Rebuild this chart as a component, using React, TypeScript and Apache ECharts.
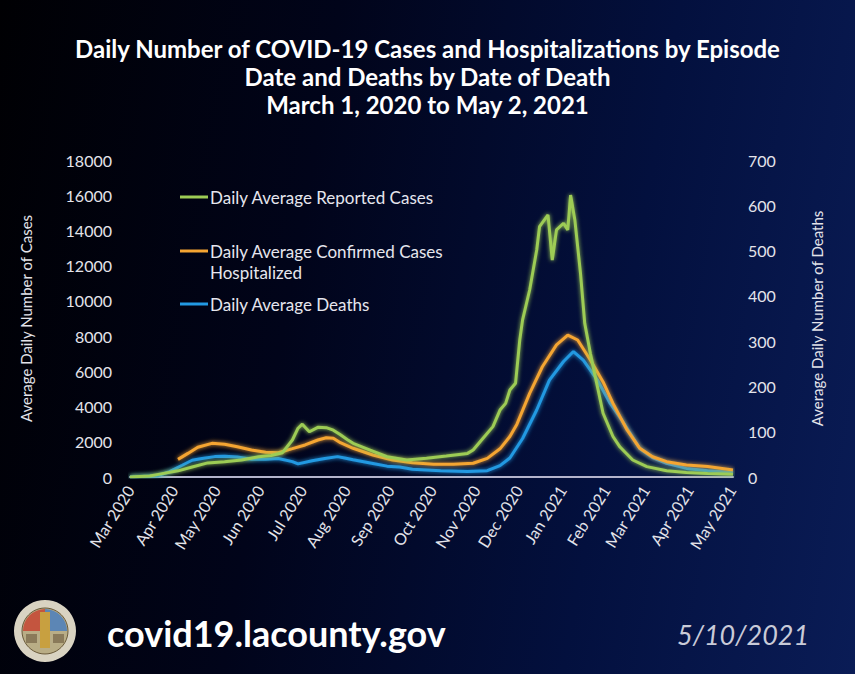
import React, { useEffect, useRef } from "react";
import * as echarts from "echarts";

const monthLabels = ["Mar 2020","Apr 2020","May 2020","Jun 2020","Jul 2020","Aug 2020","Sep 2020","Oct 2020","Nov 2020","Dec 2020","Jan 2021","Feb 2021","Mar 2021","Apr 2021","May 2021"];

const casesDates = ["2020-03-01","2020-03-15","2020-03-21","2020-04-04","2020-04-14","2020-04-25","2020-05-07","2020-05-19","2020-05-31","2020-06-09","2020-06-17","2020-06-24","2020-06-28","2020-07-01","2020-07-06","2020-07-12","2020-07-18","2020-07-23","2020-07-28","2020-08-02","2020-08-06","2020-08-18","2020-08-30","2020-09-13","2020-09-27","2020-10-11","2020-10-26","2020-10-30","2020-11-06","2020-11-13","2020-11-18","2020-11-22","2020-11-25","2020-11-29","2020-12-02","2020-12-04","2020-12-09","2020-12-14","2020-12-16","2020-12-22","2020-12-25","2020-12-28","2021-01-02","2021-01-05","2021-01-07","2021-01-10","2021-01-14","2021-01-17","2021-01-21","2021-01-26","2021-01-30","2021-02-06","2021-02-11","2021-02-20","2021-03-02","2021-03-16","2021-03-30","2021-04-14","2021-05-02"];
const casesValues = [0,60,150,350,570,800,870,965,1150,1220,1380,2100,2770,3000,2570,2820,2800,2660,2400,2120,1910,1530,1150,965,1060,1190,1340,1530,2200,2860,3800,4180,4940,5320,7780,8920,10620,12890,14210,14880,12320,14030,14410,14030,16010,14600,11570,8730,7020,5130,3620,2300,1700,965,590,360,250,200,150];

const hospDates = ["2020-04-04","2020-04-11","2020-04-18","2020-04-28","2020-05-07","2020-05-16","2020-05-26","2020-06-05","2020-06-14","2020-06-24","2020-07-03","2020-07-12","2020-07-18","2020-07-23","2020-07-28","2020-08-06","2020-08-20","2020-09-03","2020-09-17","2020-10-02","2020-10-16","2020-10-30","2020-11-09","2020-11-18","2020-11-25","2020-11-30","2020-12-09","2020-12-18","2020-12-28","2021-01-05","2021-01-12","2021-01-21","2021-01-30","2021-02-06","2021-02-16","2021-02-25","2021-03-06","2021-03-16","2021-03-30","2021-04-14","2021-05-02"];
const hospValues = [1000,1340,1690,1910,1860,1720,1530,1400,1380,1610,1820,2100,2230,2200,1950,1630,1250,965,810,720,720,780,1060,1600,2300,3000,4750,6260,7500,8060,7780,6640,5400,4180,2670,1630,1150,870,680,590,400];

const deathDates = ["2020-03-01","2020-03-21","2020-03-29","2020-04-07","2020-04-14","2020-04-21","2020-04-30","2020-05-07","2020-05-16","2020-05-26","2020-06-05","2020-06-14","2020-06-24","2020-06-28","2020-07-08","2020-07-17","2020-07-26","2020-07-31","2020-08-06","2020-08-20","2020-08-30","2020-09-08","2020-09-17","2020-10-07","2020-10-26","2020-11-09","2020-11-18","2020-11-25","2020-12-04","2020-12-14","2020-12-23","2021-01-02","2021-01-09","2021-01-16","2021-01-26","2021-02-04","2021-02-13","2021-02-25","2021-03-06","2021-03-16","2021-03-30","2021-04-14","2021-05-02"];
const deathValues = [0,3,12,26,37,41,45,46,44,39,39,41,34,29,36,41,45,42,38,30,24,22,17,14,12,14,25,42,85,148,214,255,277,258,214,163,122,63,43,30,19,14,10];

const seriesNames = ["Daily Average Reported Cases", "Daily Average Confirmed Cases Hospitalized", "Daily Average Deaths"];
const colors = ["#9dcc55", "#f5a532", "#2299e2"];

const FONT = "Lato, 'Open Sans', sans-serif";

function pairs(d: string[], v: number[]) {
  return d.map((x, i) => [x, v[i]]);
}

export default function App() {
  const ref = useRef<HTMLDivElement>(null);
  useEffect(() => {
    if (!ref.current) return;
    const chart = echarts.init(ref.current, null, { renderer: "svg" });
    const mkSeries = (i: number, data: any[], yIdx: number) => ({
      name: seriesNames[i],
      type: "line",
      yAxisIndex: yIdx,
      data,
      showSymbol: false,
      symbol: "none",
      lineStyle: { color: colors[i], width: 3, shadowBlur: 4, shadowColor: colors[i] },
      itemStyle: { color: colors[i] },
      z: 3 - i,
    });
    const legendY = [197, 251, 304];
    const graphic: any[] = [];
    legendY.forEach((y, i) => {
      graphic.push({ type: "line", shape: { x1: 180, y1: y, x2: 208, y2: y }, style: { stroke: colors[i], lineWidth: 3 } });
    });
    const lf = `17px ${FONT}`;
    graphic.push({ type: "text", x: 210, y: 197, style: { text: "Daily Average Reported Cases", fill: "#e6e6ee", font: lf, verticalAlign: "middle" } });
    graphic.push({ type: "text", x: 210, y: 251, style: { text: "Daily Average Confirmed Cases", fill: "#e6e6ee", font: lf, verticalAlign: "middle" } });
    graphic.push({ type: "text", x: 210, y: 272, style: { text: "Hospitalized", fill: "#e6e6ee", font: lf, verticalAlign: "middle" } });
    graphic.push({ type: "text", x: 210, y: 304, style: { text: "Daily Average Deaths", fill: "#e6e6ee", font: lf, verticalAlign: "middle" } });
    // seal logo
    graphic.push({ type: "circle", shape: { cx: 45, cy: 631, r: 31 }, style: { fill: "#d9d3c2" } });
    graphic.push({ type: "circle", shape: { cx: 45, cy: 631, r: 23 }, style: { fill: "#b9ad86", stroke: "#6a5a3a", lineWidth: 1 } });
    graphic.push({ type: "sector", shape: { cx: 45, cy: 631, r: 22, r0: 0, startAngle: Math.PI, endAngle: Math.PI * 1.5 }, style: { fill: "#c4553f" } });
    graphic.push({ type: "sector", shape: { cx: 45, cy: 631, r: 22, r0: 0, startAngle: Math.PI * 1.5, endAngle: Math.PI * 2 }, style: { fill: "#5c86b5" } });
    graphic.push({ type: "rect", shape: { x: 40, y: 612, width: 10, height: 36 }, style: { fill: "#c8a040" } });
    graphic.push({ type: "rect", shape: { x: 26, y: 634, width: 11, height: 9 }, style: { fill: "#8a7a5a" } });
    graphic.push({ type: "rect", shape: { x: 53, y: 634, width: 11, height: 9 }, style: { fill: "#8a7a5a" } });
    graphic.push({ type: "text", x: 107, y: 633, style: { text: "covid19.lacounty.gov", fill: "#ffffff", font: `bold 36px ${FONT}`, verticalAlign: "middle" } });
    graphic.push({ type: "text", x: 677, y: 634, style: { text: "5/10/2021", fill: "#c9cbd8", font: `italic 27px ${FONT}`, verticalAlign: "middle" } });

    chart.setOption({
      animation: false,
      backgroundColor: "transparent",
      title: {
        text: "Daily Number of COVID-19 Cases and Hospitalizations by Episode\nDate and Deaths by Date of Death\nMarch 1, 2020 to May 2, 2021",
        left: "center",
        top: 29,
        textStyle: { color: "#ffffff", fontFamily: FONT, fontWeight: "bold", fontSize: 24, lineHeight: 28, align: "center" },
      },
      grid: { left: 130, right: 122, top: 160, bottom: 197 },
      xAxis: {
        type: "time",
        min: "2020-03-01",
        max: "2021-05-02",
        splitNumber: 14,
        minInterval: 28 * 86400000,
        maxInterval: 31 * 86400000,
        axisLine: { show: true, lineStyle: { color: "#b4b4cc", width: 2 } },
        axisTick: { show: false },
        splitLine: { show: false },
        axisLabel: {
          rotate: 58,
          margin: 10,
          color: "#e4e4ea",
          fontFamily: FONT,
          fontSize: 16,
          formatter: (v: number) => {
            const d = new Date(v);
            const idx = (d.getFullYear() - 2020) * 12 + d.getMonth() - 2;
            return monthLabels[idx] ?? "";
          },
        },
      },
      yAxis: [
        {
          type: "value",
          min: 0,
          max: 18000,
          interval: 2000,
          name: "Average Daily Number of Cases",
          nameLocation: "middle",
          nameGap: 97,
          nameTextStyle: { color: "#e4e4ea", fontFamily: FONT, fontSize: 15 },
          axisLine: { show: false },
          axisTick: { show: false },
          splitLine: { show: false },
          axisLabel: { color: "#e4e4ea", fontFamily: FONT, fontSize: 16, margin: 18, formatter: (v: number) => String(v) },
        },
        {
          type: "value",
          min: 0,
          max: 700,
          interval: 100,
          name: "Average Daily Number of Deaths",
          nameLocation: "middle",
          nameGap: 76,
          nameRotate: 90,
          nameTextStyle: { color: "#e4e4ea", fontFamily: FONT, fontSize: 15 },
          axisLine: { show: false },
          axisTick: { show: false },
          splitLine: { show: false },
          axisLabel: { color: "#e4e4ea", fontFamily: FONT, fontSize: 16, margin: 15, formatter: (v: number) => String(v) },
        },
      ],
      series: [
        mkSeries(0, pairs(casesDates, casesValues), 0),
        mkSeries(1, pairs(hospDates, hospValues), 0),
        mkSeries(2, pairs(deathDates, deathValues), 1),
      ],
      graphic,
    });
    return () => chart.dispose();
  }, []);
  return (
    <div
      style={{
        position: "fixed",
        left: 0,
        top: 0,
        width: 855,
        height: 674,
        background: "linear-gradient(100deg, #000003 0%, #01041a 35%, #03103e 70%, #0a1c56 100%)",
      }}
    >
      <div ref={ref} style={{ width: 855, height: 674 }} />
    </div>
  );
}
